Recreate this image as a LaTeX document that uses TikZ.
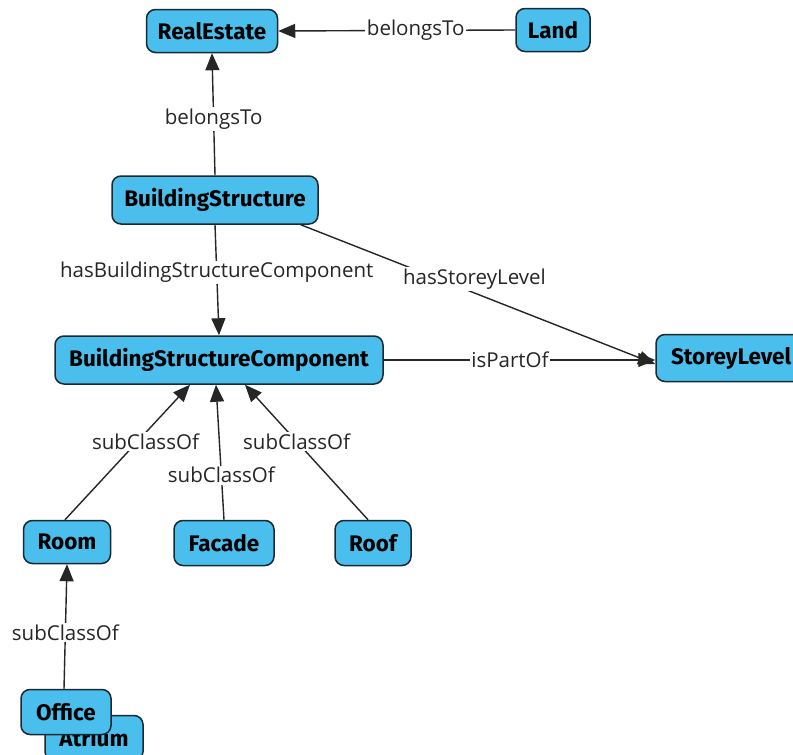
\documentclass[tikz,border=0pt]{standalone}
\usepackage{fontspec}
\setmainfont{Open Sans}
\newfontfamily\nodefont{Fira Sans}
\usetikzlibrary{arrows.meta}
\definecolor{boxfill}{RGB}{74,190,236}
\definecolor{boxline}{RGB}{25,40,50}
\tikzset{
  cls/.style={draw=boxline, fill=boxfill, line width=1.5pt, rounded corners=9pt,
    inner sep=0pt, font=\nodefont\bfseries\fontsize{22.5}{26}\selectfont},
  rel/.style={draw=black!85, line width=1.4pt, -{Triangle[length=17pt,width=14pt]}},
  lbl/.style={fill=white, inner sep=1.5pt, font=\fontsize{20.5}{24}\selectfont, text=black!85}
}
\begin{document}
\begin{tikzpicture}[x=1pt,y=-1pt]
\useasboundingbox (0,0) rectangle (793,755);
\fill[white] (0,0) rectangle (793,755);
% nodes
\node[cls, minimum width=131pt, minimum height=43pt] (re) at (212,31) {RealEstate};
\node[cls, minimum width=74pt, minimum height=43pt] (land) at (553,30) {Land};
\node[cls, minimum width=206pt, minimum height=48pt] (bs) at (215,200) {BuildingStructure};
\node[cls, minimum width=328pt, minimum height=48pt] (bsc) at (219,360) {BuildingStructureComponent};
\node[cls, minimum width=152pt, minimum height=47pt, text width=122pt, align=left] (sl) at (732,358) {StoreyLevel};
\node[cls, minimum width=87pt, minimum height=43pt] (room) at (67,542) {Room};
\node[cls, minimum width=100pt, minimum height=45pt] (facade) at (224,543) {Facade};
\node[cls, minimum width=76pt, minimum height=45pt] (roof) at (373,543) {Roof};
\node[cls, minimum width=98pt, minimum height=45pt] (atrium) at (94,738) {Atrium};
\node[cls, minimum width=90pt, minimum height=45pt] (office) at (66,712) {Office};
% edges
\draw[rel] (land.west) -- node[lbl, pos=0.42]{belongsTo} (re.east);
\draw[rel] (bs.north) -- node[lbl, pos=0.46]{belongsTo} (re.south);
\draw[rel] (bs.south) -- node[lbl, pos=0.43]{hasBuildingStructureComponent} (bsc.north);
\draw[rel] ([xshift=-18pt]bs.south east) -- node[lbl, pos=0.49, yshift=14pt]{hasStoreyLevel} ([yshift=-6pt]sl.west);
\draw[rel] (bsc.east) -- node[lbl, pos=0.465]{isPartOf} ([yshift=-2pt]sl.west);
\draw[rel] ([xshift=-2pt]room.north) -- node[lbl, pos=0.58, xshift=8pt]{subClassOf} ([xshift=-29pt]bsc.south);
\draw[rel] (facade.north) -- node[lbl, pos=0.33]{subClassOf} ([xshift=-3pt]bsc.south);
\draw[rel] ([xshift=-5pt]roof.north) -- node[lbl, pos=0.58]{subClassOf} ([xshift=26pt]bsc.south);
\draw[rel] ([xshift=-2pt]office.north) -- node[lbl, pos=0.45]{subClassOf} (room.south);
\end{tikzpicture}
\end{document}
